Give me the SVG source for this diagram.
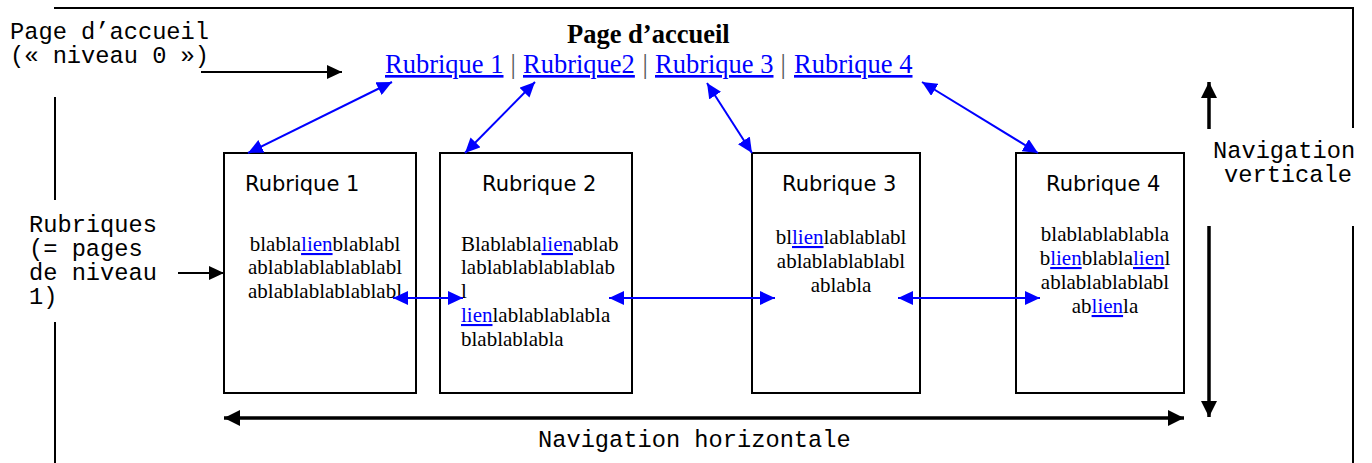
<svg xmlns="http://www.w3.org/2000/svg" width="1372" height="463" viewBox="0 0 1372 463">
<style>
.mono{font-family:"Liberation Mono","DejaVu Sans Mono",monospace;font-size:23.7px;fill:#000}
.title{font-family:"DejaVu Sans","Liberation Sans",sans-serif;font-size:21px;fill:#000}
.body{font-family:"Liberation Serif","Times New Roman",serif;font-size:21px;fill:#000}
.link{fill:#0000ff;text-decoration:underline}
.top{font-family:"Liberation Serif","Times New Roman",serif;font-size:26.5px}
.pipe{fill:#555}
.box{fill:#fff;stroke:#000;stroke-width:2}
.frame{stroke:#000;stroke-width:2;fill:none}
.blue{stroke:#0000ff;stroke-width:2;fill:none;marker-start:url(#bh);marker-end:url(#bh)}
.thin{stroke:#000;stroke-width:2;fill:none;marker-end:url(#kh)}
.thick{stroke:#000;stroke-width:3.5;fill:none;marker-end:url(#kb)}
</style>
<defs>
<marker id="bh" markerUnits="userSpaceOnUse" markerWidth="16" markerHeight="14" refX="15" refY="7" orient="auto-start-reverse"><path d="M0,0 L15,7 L0,14 z" fill="#0000ff"/></marker>
<marker id="kh" markerUnits="userSpaceOnUse" markerWidth="16" markerHeight="14" refX="15" refY="7" orient="auto-start-reverse"><path d="M0,0 L15,7 L0,14 z" fill="#000"/></marker>
<marker id="kb" markerUnits="userSpaceOnUse" markerWidth="17" markerHeight="16" refX="16" refY="8" orient="auto-start-reverse"><path d="M0,0 L16,8 L0,16 z" fill="#000"/></marker>
</defs>
<rect width="1372" height="463" fill="#fff"/>
<g id="frame">
<polyline class="frame" points="55,463 55,322"/>
<polyline class="frame" points="55,200 55,97"/>
<polyline class="frame" points="54,8 1353,8 1353,128"/>
<polyline class="frame" points="1353,226 1353,463"/>
</g>
<g id="home">
<text class="top" x="567" y="43" font-weight="bold" font-size="26.5">Page d’accueil</text>
<text class="top" y="73"><tspan class="link" x="385">Rubrique 1</tspan><tspan class="pipe" x="510.5">|</tspan><tspan class="link" x="523">Rubrique2</tspan><tspan class="pipe" x="642.5">|</tspan><tspan class="link" x="655">Rubrique 3</tspan><tspan class="pipe" x="780.5">|</tspan><tspan class="link" x="794">Rubrique 4</tspan></text>
</g>
<g id="label-home">
<text class="mono" x="10" y="39">Page d’accueil</text>
<text class="mono" x="10" y="63">(« niveau 0 »)</text>
</g>
<g id="label-rubriques">
<text class="mono" x="29" y="232">Rubriques</text>
<text class="mono" x="29" y="256">(= pages</text>
<text class="mono" x="29" y="280">de niveau</text>
<text class="mono" x="29" y="304">1)</text>
</g>
<g id="label-vertical">
<text class="mono" x="1213" y="158">Navigation</text>
<text class="mono" x="1224" y="182">verticale</text>
</g>
<g id="label-horizontal">
<text class="mono" x="538" y="447">Navigation horizontale</text>
</g>
<g id="rubrique1">
<rect class="box" x="224" y="153" width="192" height="240"/>
<text class="title" x="245" y="191">Rubrique 1</text>
<text class="body" x="325" y="251" text-anchor="middle">blabla<tspan class="link">lien</tspan>blablabl</text>
<text class="body" x="325" y="274" text-anchor="middle">ablablablablablabl</text>
<text class="body" x="325" y="298" text-anchor="middle">ablablablablablabl</text>
</g>
<g id="rubrique2">
<rect class="box" x="440" y="153" width="192" height="240"/>
<text class="title" x="482" y="191">Rubrique 2</text>
<text class="body" x="461" y="251">Blablabla<tspan class="link">lien</tspan>ablab</text>
<text class="body" x="461" y="274">lablablablablablab</text>
<text class="body" x="461" y="298">l</text>
<text class="body" x="461" y="322"><tspan class="link">lien</tspan>lablablablabla</text>
<text class="body" x="461" y="346">blablablabla</text>
</g>
<g id="rubrique3">
<rect class="box" x="752" y="153" width="168" height="240"/>
<text class="title" x="782" y="191">Rubrique 3</text>
<text class="body" x="841" y="244" text-anchor="middle">bl<tspan class="link">lien</tspan>lablablabl</text>
<text class="body" x="841" y="268" text-anchor="middle">ablablablablabl</text>
<text class="body" x="841" y="292" text-anchor="middle">ablabla</text>
</g>
<g id="rubrique4">
<rect class="box" x="1016" y="153" width="168" height="240"/>
<text class="title" x="1046" y="191">Rubrique 4</text>
<text class="body" x="1105" y="241" text-anchor="middle">blablablablabla</text>
<text class="body" x="1105" y="265" text-anchor="middle">b<tspan class="link">lien</tspan>blabla<tspan class="link">lien</tspan>l</text>
<text class="body" x="1105" y="289" text-anchor="middle">ablablablablabl</text>
<text class="body" x="1105" y="313" text-anchor="middle">ab<tspan class="link">lien</tspan>la</text>
</g>
<g id="connectors">
<line class="blue" x1="392" y1="82" x2="248" y2="153"/>
<line class="blue" x1="535" y1="82" x2="465" y2="153"/>
<line class="blue" x1="707" y1="83" x2="752" y2="153"/>
<line class="blue" x1="922" y1="82" x2="1038" y2="153"/>
<line class="blue" x1="393" y1="298" x2="463" y2="298"/>
<line class="blue" x1="609" y1="298" x2="775" y2="298"/>
<line class="blue" x1="898" y1="298" x2="1040" y2="298"/>
<line class="thin" x1="201" y1="72" x2="342" y2="72"/>
<line class="thin" x1="178" y1="273" x2="224" y2="273"/>
<line class="thick" x1="1209" y1="129" x2="1209" y2="82"/>
<line class="thick" x1="1209" y1="226" x2="1209" y2="417"/>
<line class="thick" x1="224" y1="418" x2="1184" y2="418" style="marker-start:url(#kb)"/>
</g>
</svg>
